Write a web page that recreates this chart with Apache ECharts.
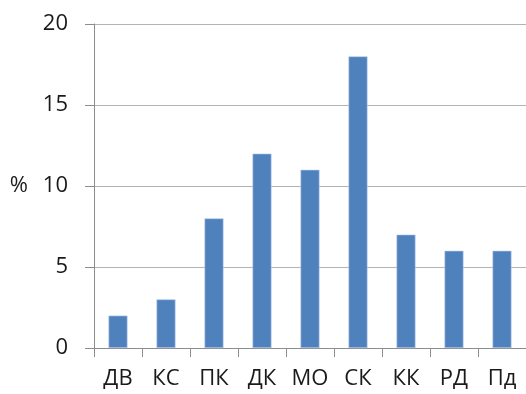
<!DOCTYPE html>
<html>
<head>
<meta charset="utf-8">
<script src="https://cdn.jsdelivr.net/npm/echarts@6/dist/echarts.min.js"></script>
<style>
  html, body { margin: 0; padding: 0; background: #fff; }
  #chart { width: 526px; height: 394px; }
</style>
</head>
<body>
<div id="chart"></div>
<script>
// Categories and their percentages
const categories = ['ДВ', 'КС', 'ПК', 'ДК', 'МО', 'СК', 'КК', 'РД', 'Пд'];
const percentValues = [2, 3, 8, 12, 11, 18, 7, 6, 6];
const yTicks = [0, 5, 10, 15, 20];

const font = '"Open Sans", "Noto Sans", sans-serif';

const chart = echarts.init(document.getElementById('chart'), null, { renderer: 'canvas' });
chart.setOption({
  animation: false,
  backgroundColor: '#ffffff',
  grid: { left: 94, top: 24, width: 435, height: 324, containLabel: false },
  xAxis: {
    type: 'category',
    data: categories,
    boundaryGap: true,
    axisLine: { show: true, lineStyle: { color: '#8c8c8c', width: 1 } },
    axisTick: { show: true, length: 9, alignWithLabel: false, lineStyle: { color: '#8c8c8c' } },
    axisLabel: { color: '#1a1a1a', fontSize: 22, fontFamily: font, margin: 20 },
    splitLine: { show: false }
  },
  yAxis: {
    type: 'value',
    min: yTicks[0],
    max: yTicks[yTicks.length - 1],
    interval: 5,
    name: '%',
    nameLocation: 'middle',
    nameRotate: 0,
    nameGap: 66,
    nameTextStyle: { color: '#1a1a1a', fontSize: 22, fontFamily: font },
    axisLine: { show: true, lineStyle: { color: '#8c8c8c', width: 1 } },
    axisTick: { show: true, length: 9, lineStyle: { color: '#8c8c8c' } },
    axisLabel: { color: '#1a1a1a', fontSize: 22, fontFamily: font, margin: 26 },
    splitLine: { show: true, lineStyle: { color: '#b3b3b3', width: 1 } }
  },
  series: [{
    type: 'bar',
    data: percentValues,
    barWidth: 19,
    itemStyle: { color: '#4f81bd', borderColor: '#b9cde5', borderWidth: 0.6 }
  }]
});
</script>
</body>
</html>
